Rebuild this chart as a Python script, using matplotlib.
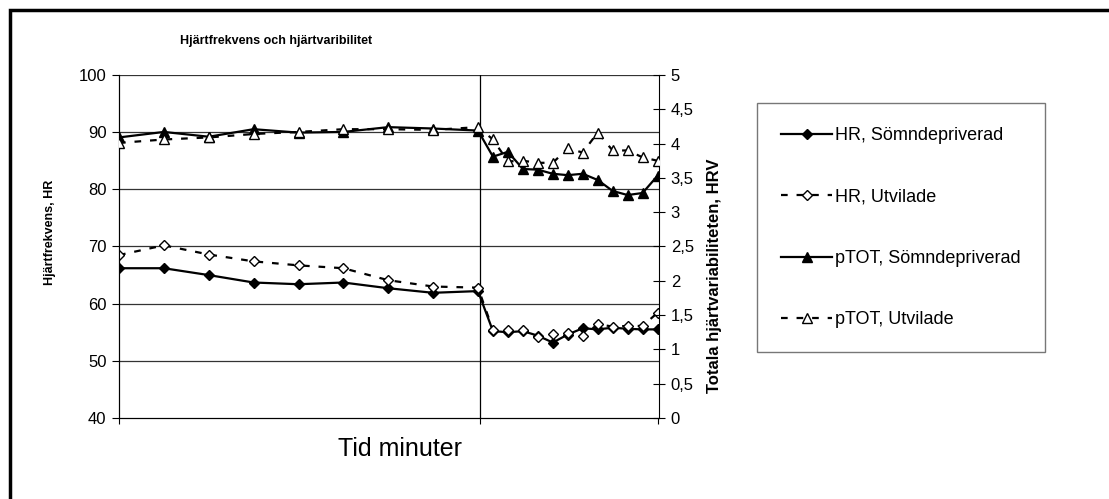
import matplotlib as mpl
mpl.use('Agg')
import matplotlib.pyplot as plt
from matplotlib.patches import Rectangle
from matplotlib.ticker import FuncFormatter

plt.rcParams['font.family'] = ['Liberation Sans', 'DejaVu Sans']

# minutes (left part every 3 min, then every minute)
minutes = [0, 3, 6, 9, 12, 15, 18, 21, 24, 25, 26, 27, 28, 29, 30, 31, 32, 33, 34, 35, 36]

hr_somn = [66.2, 66.2, 65.0, 63.7, 63.4, 63.7, 62.7, 61.9, 62.2,
           55.2, 55.0, 55.2, 54.4, 53.2, 54.6, 55.7, 55.5, 55.8, 55.6, 55.5, 55.5]
hr_utv = [68.5, 70.2, 68.6, 67.4, 66.7, 66.2, 64.1, 63.0, 62.8,
          55.4, 55.4, 55.4, 54.2, 54.7, 54.9, 54.3, 56.4, 56.0, 56.1, 56.1, 58.4]
ptot_somn = [4.09, 4.17, 4.10, 4.21, 4.16, 4.17, 4.24, 4.22, 4.19,
             3.81, 3.88, 3.63, 3.62, 3.56, 3.54, 3.56, 3.47, 3.31, 3.25, 3.28, 3.53]
ptot_utv = [4.01, 4.06, 4.09, 4.14, 4.17, 4.21, 4.21, 4.20, 4.24,
            4.06, 3.74, 3.75, 3.72, 3.72, 3.93, 3.87, 4.16, 3.90, 3.90, 3.80, 3.75]

divider = 24.15

fig = plt.figure(figsize=(11.09, 4.99), dpi=100)

# outer chart frame (only left and top edges show in the picture)
fig.patches.append(Rectangle((10 / 1109, -0.1), 1.5, 1 - 10 / 499 + 0.1,
                             transform=fig.transFigure, fill=False,
                             edgecolor='black', lw=2.5))

ax = fig.add_axes([119 / 1109, 1 - 418 / 499, 540 / 1109, 343 / 499])
ax2 = ax.twinx()

ax.set_xlim(0, 36.1)
ax.set_ylim(40, 100)
ax2.set_ylim(0, 5)

for v in range(50, 101, 10):
    ax.axhline(v, color='#333333', lw=0.9, zorder=0)
ax.axvline(divider, color='black', lw=0.9, zorder=0)

ax.spines['top'].set_visible(False)
ax2.spines['top'].set_visible(False)
ax.spines['right'].set_visible(False)

ax.set_yticks(range(40, 101, 10))
ax.tick_params(axis='y', direction='out', length=5, labelsize=12, pad=4)
ax.set_xticks([0, divider, 36])
ax.set_xticklabels([])
ax.tick_params(axis='x', direction='out', length=4)

ax2.set_yticks([i * 0.5 for i in range(11)])
ax2.yaxis.set_major_formatter(FuncFormatter(lambda v, p: ('%g' % v).replace('.', ',')))
ax2.tick_params(axis='y', direction='inout', length=9, labelsize=12, pad=4)

ms = 7
l1, = ax.plot(minutes, hr_somn, color='black', lw=1.6, marker='D', markersize=5,
              markerfacecolor='black', label='HR, Sömndepriverad', zorder=3)
l2, = ax.plot(minutes, hr_utv, color='black', lw=1.6, ls=(0, (3, 4)), marker='D',
              markersize=5, markerfacecolor='white', label='HR, Utvilade', zorder=4)
l3, = ax2.plot(minutes, ptot_somn, color='black', lw=1.6, marker='^', markersize=ms,
               markerfacecolor='black', label='pTOT, Sömndepriverad', zorder=3)
l4, = ax2.plot(minutes, ptot_utv, color='black', lw=1.6, ls=(0, (3, 4)), marker='^',
               markersize=ms, markerfacecolor='white', label='pTOT, Utvilade', zorder=4)

ax.set_ylabel('Hjärtfrekvens, HR', fontsize=9, fontweight='bold')
ax.yaxis.set_label_coords(-0.117, 0.54)
ax2.set_ylabel('Totala hjärtvariabiliteten, HRV', fontsize=12, fontweight='bold')
ax2.yaxis.set_label_coords(1.088, 0.414)
ax.set_xlabel('Tid minuter', fontsize=18)
ax.xaxis.set_label_coords(0.52, -0.055)

fig.text(180 / 1109, 1 - 41 / 499, 'Hjärtfrekvens och hjärtvaribilitet',
         fontsize=9, fontweight='bold', va='center')

leg = fig.legend(handles=[l1, l2, l3, l4], loc='upper left',
                 bbox_to_anchor=(757 / 1109, 1 - 103 / 499), fontsize=13,
                 frameon=True, fancybox=False, edgecolor='#555555',
                 labelspacing=2.45, handlelength=2.8, handletextpad=0.15,
                 borderpad=1.35, borderaxespad=0)
leg.get_frame().set_linewidth(1.0)

fig.savefig('out.png', dpi=100)
